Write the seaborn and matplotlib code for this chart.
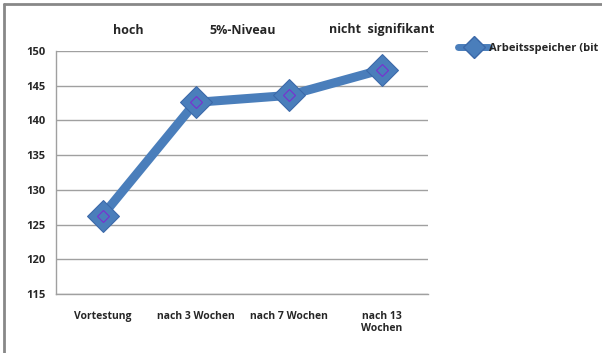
import matplotlib
matplotlib.use("Agg")
import matplotlib.pyplot as plt
import seaborn as sns
import pandas as pd
from matplotlib.lines import Line2D

# values
zeitpunkte = ["Vortestung", "nach 3 Wochen", "nach 7 Wochen", "nach 13\nWochen"]
arbeitsspeicher = [126.3, 142.6, 143.6, 147.3]
serie = "Arbeitsspeicher (bit"
signif_labels = ["hoch", "5%-Niveau", "nicht  signifikant"]
signif_x = [128, 243, 382]  # pixel centres

df = pd.DataFrame({"pos": range(len(zeitpunkte)), "wert": arbeitsspeicher})

sns.set_style("white")
plt.rcParams["font.family"] = ["Open Sans", "DejaVu Sans"]

blue = "#4a7ebb"
edge = "#3b68a8"
fig = plt.figure(figsize=(6.02, 3.53), dpi=100)
ax = fig.add_axes([56 / 602, 1 - 294 / 353, (428 - 56) / 602, (294 - 51) / 353])

sns.lineplot(data=df, x="pos", y="wert", ax=ax, color=blue, linewidth=6.5,
             marker="D", markersize=16, markeredgecolor=edge,
             markerfacecolor=blue, zorder=3)
ax.plot(df["pos"], df["wert"], linestyle="none", marker="D", markersize=6,
        markerfacecolor="none", markeredgecolor="#7a2fd0", markeredgewidth=0.8,
        zorder=4)

ax.set_xlim(-0.5, len(zeitpunkte) - 0.5)
ax.set_ylim(115, 150)
ax.set_yticks(range(115, 151, 5))
ax.set_xticks(range(len(zeitpunkte)))
ax.set_xticklabels(zeitpunkte, fontsize=7.5, fontweight="bold")
ax.set_xticks([i - 0.5 for i in range(len(zeitpunkte) + 1)], minor=True)
ax.tick_params(axis="x", which="major", length=0, pad=12)
ax.tick_params(axis="x", which="minor", length=4, color="#999999", width=1)
ax.tick_params(axis="y", length=4, color="#999999", width=1, labelsize=8)
for t in ax.get_yticklabels():
    t.set_fontweight("bold")
ax.set_xlabel("")
ax.set_ylabel("")
ax.yaxis.grid(True, color="#a0a0a0", linewidth=1)
ax.xaxis.grid(False)
for s in ["top", "right"]:
    ax.spines[s].set_visible(False)
for s in ["left", "bottom"]:
    ax.spines[s].set_color("#a0a0a0")
    ax.spines[s].set_linewidth(1)

for lab, px in zip(signif_labels, signif_x):
    fig.text(px / 602, 1 - 30 / 353, lab, ha="center", va="center",
             fontsize=9, fontweight="bold")

handle = Line2D([], [], color=blue, linewidth=5, marker="D", markersize=11,
                markerfacecolor=blue, markeredgecolor=edge)
fig.legend([handle], [serie], loc="center left",
           bbox_to_anchor=(448 / 602, 1 - 48 / 353), frameon=False,
           handlelength=2.8, handletextpad=0.0,
           prop={"weight": "bold", "size": 8})

# outer frame
fig.add_artist(Line2D([4 / 602, 4 / 602], [0, 1 - 4 / 353], color="#888888",
                      linewidth=2, transform=fig.transFigure))
fig.add_artist(Line2D([4 / 602, 1], [1 - 4 / 353, 1 - 4 / 353], color="#888888",
                      linewidth=2, transform=fig.transFigure))

fig.savefig("out.png", dpi=100)
